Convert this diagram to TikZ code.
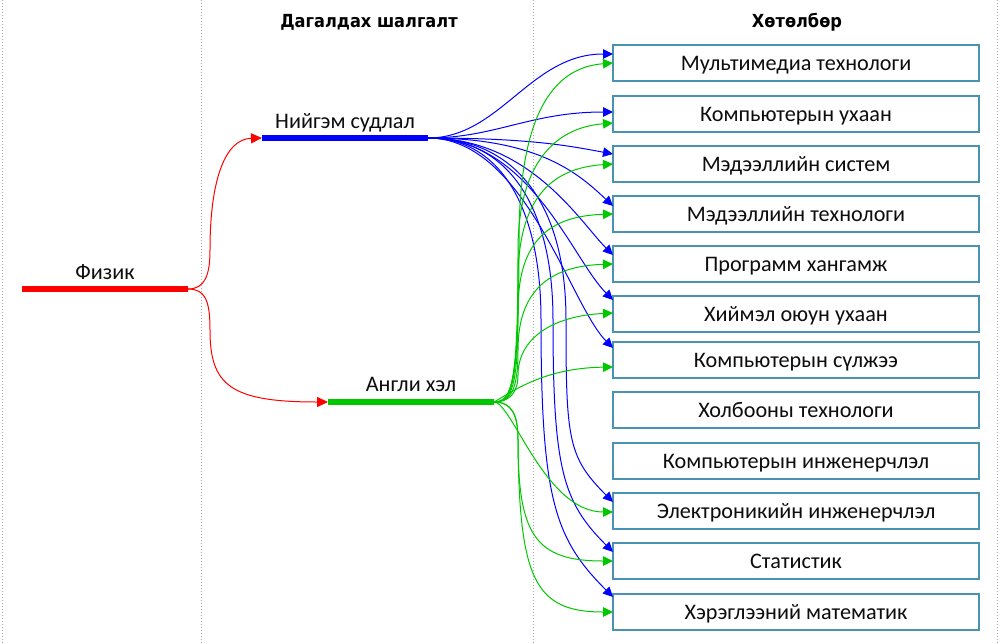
\documentclass[tikz,border=0pt]{standalone}
\usepackage{fontspec}
\setmainfont{Carlito}
\newfontfamily\headfont[FakeStretch=0.9]{DejaVu Sans}
\usetikzlibrary{arrows.meta}
\definecolor{bluec}{RGB}{0,0,255}
\definecolor{greenc}{RGB}{0,200,0}
\definecolor{redc}{RGB}{255,0,0}
\definecolor{boxc}{RGB}{74,146,178}
\definecolor{sepc}{RGB}{170,170,170}
\definecolor{txtc}{RGB}{13,13,13}
\begin{document}
\begin{tikzpicture}[x=1pt,y=-1pt,
  prog/.style={draw=boxc, line width=1.5pt, minimum width=366pt, minimum height=36pt,
    inner sep=0pt, outer sep=0pt, text height=14.2pt, text depth=0pt,
    font=\fontsize{22.2}{26}\selectfont, text=txtc},
  bar/.style={minimum width=166pt, minimum height=5.5pt, inner sep=0pt, outer sep=0pt},
  lbl/.style={anchor=base, inner sep=0pt, font=\fontsize{22.2}{26}\selectfont, text=txtc},
  head/.style={anchor=base, inner sep=0pt, font=\headfont\bfseries\fontsize{18}{22}\selectfont, text=black},
  bl/.style={draw=bluec, line width=1pt, -{Triangle[length=10pt,width=9.5pt]}},
  gr/.style={draw=greenc, line width=1pt, -{Triangle[length=10pt,width=9.5pt]}},
  rd/.style={draw=redc, line width=1pt, -{Triangle[length=11pt,width=10pt]}},
  sepline/.style={draw=sepc, line width=1pt, dash pattern=on 1pt off 2pt}]
\useasboundingbox (0,0) rectangle (1001,643);

% column separators
\draw[sepline] (2,0) -- (2,643);
\draw[sepline] (201,0) -- (201,643);
\draw[sepline] (533,0) -- (533,643);
\draw[sepline] (997,0) -- (997,643);

% headings
\node[head] (h1) at (369,27) {Дагалдах шалгалт};
\node[head] (h2) at (797,27) {Хөтөлбөр};

% bars
\node[bar, fill=redc] (fiz) at (105,289) {};
\node[bar, fill=bluec] (ns) at (345,138) {};
\node[bar, fill=greenc] (an) at (411,402) {};
\node[lbl] (fizl) at ([yshift=7pt]fiz.north) {Физик};
\node[lbl] (nsl) at ([yshift=6.5pt]ns.north) {Нийгэм судлал};
\node[lbl] (anl) at ([yshift=7.5pt]an.north) {Англи хэл};

% programmes
\node[prog] (p1) at (796,63) {Мультимедиа технологи};
\node[prog] (p2) at (796,114) {Компьютерын ухаан};
\node[prog] (p3) at (796,164) {Мэдээллийн систем};
\node[prog] (p4) at (796,214) {Мэдээллийн технологи};
\node[prog] (p5) at (796,264) {Программ хангамж};
\node[prog] (p6) at (796,314) {Хиймэл оюун ухаан};
\node[prog] (p7) at (796,360) {Компьютерын сүлжээ};
\node[prog] (p8) at (796,410) {Холбооны технологи};
\node[prog] (p9) at (796,461) {Компьютерын инженерчлэл};
\node[prog] (p10) at (796,511) {Электроникийн инженерчлэл};
\node[prog] (p11) at (796,561) {Статистик};
\node[prog] (p12) at (796,612) {Хэрэглээний математик};

% red connectors
\draw[rd] (fiz.east) .. controls (205,289) and (210,275) .. (210,250)
  .. controls (210,180) and (225,139) .. (ns.west);
\draw[rd] (fiz.east) .. controls (205,289) and (210,300) .. (210,330)
  .. controls (210,385) and (230,402) .. (an.west);

% blue connectors
\draw[bl] (ns.east) .. controls (500,138) and (530,54) .. ([yshift=9pt]p1.west);
\draw[bl] (ns.east) .. controls (495,138) and (530,112) .. ([yshift=2pt]p2.west);
\draw[bl] (ns.east) .. controls (530,138) and (570,146) .. ([yshift=10pt]p3.west);
\draw[bl] (ns.east) .. controls (540,138) and (580,175) .. ([yshift=8pt]p4.west);
\draw[bl] (ns.east) .. controls (530,138) and (580,222) .. ([yshift=9pt]p5.west);
\draw[bl] (ns.east) .. controls (530,138) and (572,259) .. ([yshift=14pt]p6.west);
\draw[bl] (ns.east) .. controls (525,138) and (570,305) .. ([yshift=12pt]p7.west);
\draw[bl] (ns.east) .. controls (512,138) and (566,200) .. (566,320)
  .. controls (566,440) and (568,457) .. ([yshift=9pt]p10.west);
\draw[bl] (ns.east) .. controls (507,138) and (553,205) .. (553,320)
  .. controls (553,470) and (563,502) .. ([yshift=9pt]p11.west);
\draw[bl] (ns.east) .. controls (502,138) and (541,210) .. (541,320)
  .. controls (541,500) and (555,539) .. ([yshift=15pt]p12.west);

% green connectors
\draw[gr] (an.east) .. controls (512,402) and (519,385) .. (519,240)
  .. controls (519,130) and (545,68) .. (p1.west);
\draw[gr] (an.east) .. controls (512,402) and (518,385) .. (518,250)
  .. controls (518,170) and (550,128) .. ([yshift=-9pt]p2.west);
\draw[gr] (an.east) .. controls (512,402) and (518,385) .. (518,280)
  .. controls (518,200) and (550,168) .. (p3.west);
\draw[gr] (an.east) .. controls (512,402) and (518,388) .. (518,310)
  .. controls (518,240) and (550,216) .. (p4.west);
\draw[gr] (an.east) .. controls (511,402) and (518,390) .. (518,350)
  .. controls (518,290) and (550,266) .. (p5.west);
\draw[gr] (an.east) .. controls (510,402) and (518,392) .. (518,375)
  .. controls (518,340) and (550,316) .. ([yshift=1pt]p6.west);
\draw[gr] (an.east) .. controls (515,390) and (545,368) .. ([yshift=-7pt]p7.west);
\draw[gr] (an.east) .. controls (512,402) and (545,512) .. ([yshift=-1pt]p10.west);
\draw[gr] (an.east) .. controls (512,402) and (518,415) .. (518,440)
  .. controls (518,535) and (535,561) .. (p11.west);
\draw[gr] (an.east) .. controls (512,402) and (518,415) .. (518,440)
  .. controls (519,580) and (535,612) .. (p12.west);
\end{tikzpicture}
\end{document}
